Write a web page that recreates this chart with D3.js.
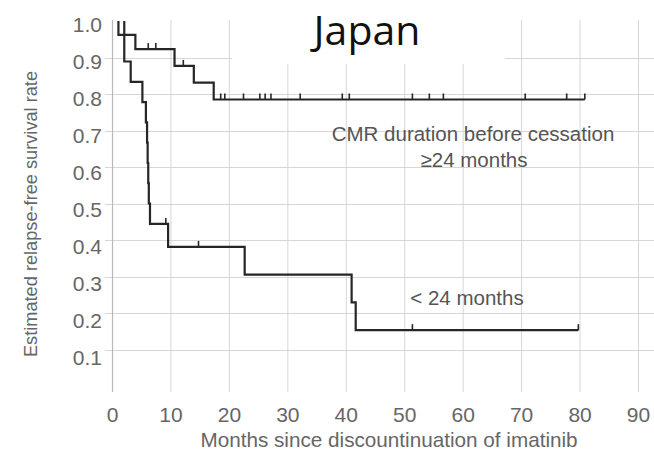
<!DOCTYPE html>
<html>
<head>
<meta charset="utf-8">
<script src="https://cdn.jsdelivr.net/npm/d3@7"></script>
<style>
  html, body { margin: 0; padding: 0; background: #fff; }
  svg { display: block; font-family: "Liberation Sans", Arial, sans-serif; }
</style>
</head>
<body>
<svg id="chart" width="654" height="453"></svg>
<script>
// Kaplan-Meier estimates, relapse-free survival after stopping imatinib
const xTicks = [0, 10, 20, 30, 40, 50, 60, 70, 80, 90];
const yTicks = [0.1, 0.2, 0.3, 0.4, 0.5, 0.6, 0.7, 0.8, 0.9, 1.0];

// CMR duration before cessation >= 24 months
const longStart = 1.1;
const longTimes = [1.1, 4.0, 10.7, 14.0, 17.4];
const longSurv  = [0.962, 0.923, 0.877, 0.831, 0.785];
const longEnd = 80.9;
const longCensored = [6.2, 7.5, 12.2, 18.6, 19.3, 22.5, 25.3, 26.2, 27.2, 32.2,
                      39.4, 40.6, 51.4, 54.3, 56.7, 70.7, 77.8, 80.9];

// CMR duration before cessation < 24 months
const shortStart = 2.1;
const shortTimes = [2.1, 3.2, 5.2, 5.8, 6.0, 6.1, 6.2, 6.3, 6.5, 9.6, 22.7, 41.0, 41.7];
const shortSurv  = [0.889, 0.833, 0.778, 0.722, 0.667, 0.611, 0.556, 0.5, 0.444,
                    0.381, 0.305, 0.229, 0.153];
const shortEnd = 79.8;
const shortCensored = [9.2, 14.8, 51.4, 79.8];

const svg = d3.select("#chart");
const W = 654, H = 453;
svg.append("rect").attr("width", W).attr("height", H).attr("fill", "#fff");

const x = d3.scaleLinear().domain([0, 90]).range([112, 638]);
const y = d3.scaleLinear().domain([0, 1]).range([386, 21]);
// tick labels sit a little below their grid lines
const yLab = d3.scaleLinear().domain([0, 1]).range([395, 25]);

const gridTop = 20, gridBottom = 392;

// grid
const grid = svg.append("g").attr("stroke", "#d6d6d6").attr("stroke-width", 1);
grid.selectAll("line.v").data(xTicks.filter(d => d > 0)).join("line")
  .attr("class", "v")
  .attr("x1", d => x(d) + 0.5).attr("x2", d => x(d) + 0.5)
  .attr("y1", gridTop).attr("y2", gridBottom);
grid.selectAll("line.h").data(yTicks.filter(d => d < 1)).join("line")
  .attr("class", "h")
  .attr("x1", 105).attr("x2", W)
  .attr("y1", d => Math.round(y(d)) + 0.5).attr("y2", d => Math.round(y(d)) + 0.5);

// y axis line
svg.append("line")
  .attr("x1", x(0) + 0.5).attr("x2", x(0) + 0.5)
  .attr("y1", gridTop).attr("y2", gridBottom)
  .attr("stroke", "#b8b8b8").attr("stroke-width", 1.2);

// title panel
svg.append("rect").attr("x", 232).attr("y", 0).attr("width", 273).attr("height", 64).attr("fill", "#fff");
svg.append("text")
  .attr("x", 367).attr("y", 45)
  .attr("text-anchor", "middle")
  .attr("font-family", "'Open Sans', 'Noto Sans', sans-serif")
  .attr("font-size", 41).attr("fill", "#111")
  .text("Japan");

// y axis labels
const yAxis = svg.append("g")
  .attr("transform", "translate(102,0)")
  .call(d3.axisLeft(yLab).tickValues(yTicks).tickFormat(d3.format(".1f")).tickSize(0).tickPadding(0));
yAxis.select(".domain").remove();
yAxis.selectAll("text")
  .attr("font-family", "'Liberation Sans', Arial, sans-serif")
  .attr("font-size", 21).attr("fill", "#666");

// x axis labels
const xAxis = svg.append("g")
  .attr("transform", "translate(0,422)")
  .call(d3.axisBottom(x).tickValues(xTicks).tickFormat(d3.format("d")).tickSize(0));
xAxis.select(".domain").remove();
xAxis.selectAll("text")
  .attr("y", 0).attr("dy", 0)
  .attr("font-family", "'Liberation Sans', Arial, sans-serif")
  .attr("font-size", 21).attr("fill", "#666");

// axis titles
svg.append("text")
  .attr("x", 389).attr("y", 447)
  .attr("text-anchor", "middle")
  .attr("font-size", 20.7).attr("fill", "#666")
  .text("Months since discountinuation of imatinib");
svg.append("text")
  .attr("transform", "translate(37,214) rotate(-90)")
  .attr("text-anchor", "middle")
  .attr("font-size", 18.2).attr("fill", "#666")
  .text("Estimated relapse-free survival rate");

// survival step curves
function stepPoints(start, times, surv, end) {
  const pts = [[start, 1.0]];
  times.forEach((t, i) => pts.push([t, surv[i]]));
  pts.push([end, surv[surv.length - 1]]);
  return pts;
}
function survAt(t, times, surv) {
  let s = 1.0;
  times.forEach((ti, i) => { if (ti <= t) s = surv[i]; });
  return s;
}
const line = d3.line().x(d => x(d[0])).y(d => y(d[1])).curve(d3.curveStepAfter);

const groups = [
  { start: longStart, times: longTimes, surv: longSurv, end: longEnd, cens: longCensored },
  { start: shortStart, times: shortTimes, surv: shortSurv, end: shortEnd, cens: shortCensored }
];

groups.forEach(g => {
  svg.append("path")
    .attr("d", line(stepPoints(g.start, g.times, g.surv, g.end)))
    .attr("fill", "none").attr("stroke", "#262626").attr("stroke-width", 2.2);
  svg.append("g").selectAll("line").data(g.cens).join("line")
    .attr("x1", d => x(d)).attr("x2", d => x(d))
    .attr("y1", d => y(survAt(d, g.times, g.surv)))
    .attr("y2", d => y(survAt(d, g.times, g.surv)) - 6)
    .attr("stroke", "#262626").attr("stroke-width", 1.6);
});

// curve annotations
const ann = svg.append("g").attr("fill", "#555").attr("font-size", 20.5).attr("text-anchor", "middle");
ann.append("text").attr("x", 473).attr("y", 141).text("CMR duration before cessation");
ann.append("text").attr("x", 474).attr("y", 167).text("\u226524 months");
ann.append("text").attr("x", 467).attr("y", 305).text("< 24 months");
</script>
</body>
</html>
